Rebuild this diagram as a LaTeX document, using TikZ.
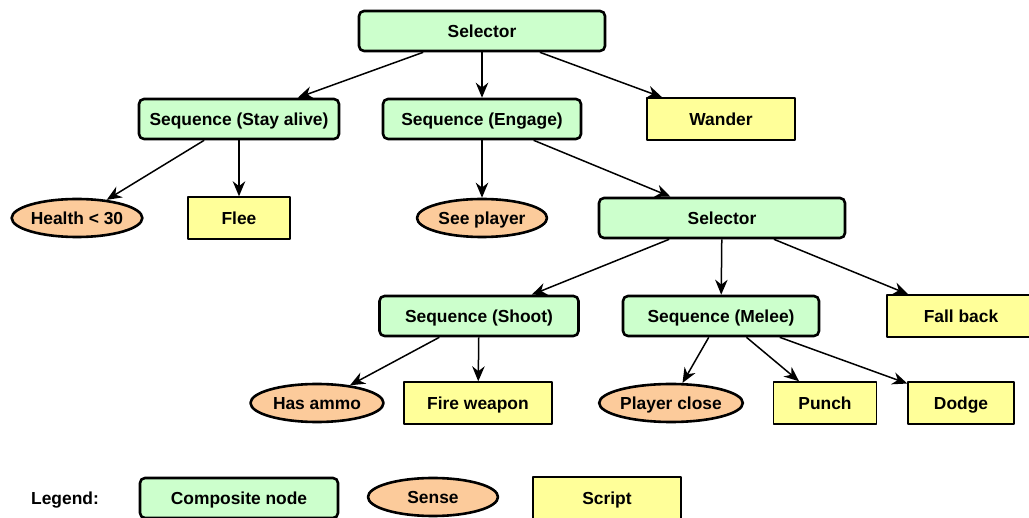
\documentclass[tikz,border=0pt]{standalone}
\usepackage{fontspec}
\setmainfont{Liberation Sans}
\usetikzlibrary{arrows.meta,shapes.geometric}
\definecolor{compgreen}{HTML}{CCFFCC}
\definecolor{senseorange}{HTML}{FCCB9B}
\definecolor{scriptyellow}{HTML}{FFFF99}
\tikzset{bt/.style={
  x=1pt,y=-1pt,
  font=\fontsize{17.4}{20}\selectfont\bfseries,
  every node/.style={text height=14pt,text depth=0pt},
  >={Stealth[length=15pt,width=12.5pt]},line join=round
}}
\tikzset{
  composite/.style={draw,line width=2.6pt,fill=compgreen,rounded corners=5pt,
    minimum width=#1,minimum height=40pt,inner sep=0pt},
  composite/.default=198pt,
  sense/.style={ellipse,draw,line width=2.6pt,fill=senseorange,
    minimum width=#1,minimum height=38pt,inner sep=0pt},
  sense/.default=130pt,
  script/.style={draw,line width=1.4pt,fill=scriptyellow,
    minimum width=#1,minimum height=42pt,inner sep=0pt},
  script/.default=148pt,
  link/.style={->,line width=1.5pt}
}

\begin{document}
\begin{tikzpicture}[bt]
  \useasboundingbox (0,0) rectangle (1029,518);
  \clip (0,0) rectangle (1029,518);
  % tree
  \node[composite=246pt] (sel) at (482,31) {Selector};
  \node[composite=200pt] (stay) at (239,119) {Sequence (Stay alive)};
  \node[composite=198pt] (engage) at (482,119) {Sequence (Engage)};
  \node[script=148pt] (wander) at (721,119) {Wander};
  \node[sense=129pt] (health) at (77,218) {Health < 30};
  \node[script=102pt] (flee) at (239,218) {Flee};
  \node[sense=130pt] (see) at (482,218) {See player};
  \node[composite=246pt] (sel2) at (722,218) {Selector};
  \node[composite=199pt] (shoot) at (479,316) {Sequence (Shoot)};
  \node[composite=196pt] (melee) at (721,316) {Sequence (Melee)};
  \node[script=148pt] (fallback) at (961,316) {Fall back};
  \node[sense=133pt] (ammo) at (317,403) {Has ammo};
  \node[script=148pt] (fire) at (478,403) {Fire weapon};
  \node[sense=131pt] (close) at (671,403) {Player close};
  \node[script=103pt] (punch) at (825,403) {Punch};
  \node[script=106pt] (dodge) at (961,403) {Dodge};
  \draw[link] (sel) -- (stay);
  \draw[link] (sel) -- (engage);
  \draw[link] (sel) -- (wander);
  \draw[link] (stay) -- (health);
  \draw[link] (stay) -- (flee);
  \draw[link] (engage) -- (see);
  \draw[link] (engage) -- (sel2);
  \draw[link] (sel2) -- (shoot);
  \draw[link] (sel2) -- (melee);
  \draw[link] (sel2) -- (fallback);
  \draw[link] (shoot) -- (ammo);
  \draw[link] (shoot) -- (fire);
  \draw[link] (melee) -- (close);
  \draw[link] (melee) -- (punch);
  \draw[link] (melee) -- (dodge);
  % legend
  \node (legend) at (65,498) {Legend:};
  \node[composite=198pt] (legcomp) at (239,498) {Composite node};
  \node[sense=130pt] (legsense) at (433,497) {Sense};
  \node[script=148pt] (legscript) at (607,498) {Script};
\end{tikzpicture}
\end{document}
